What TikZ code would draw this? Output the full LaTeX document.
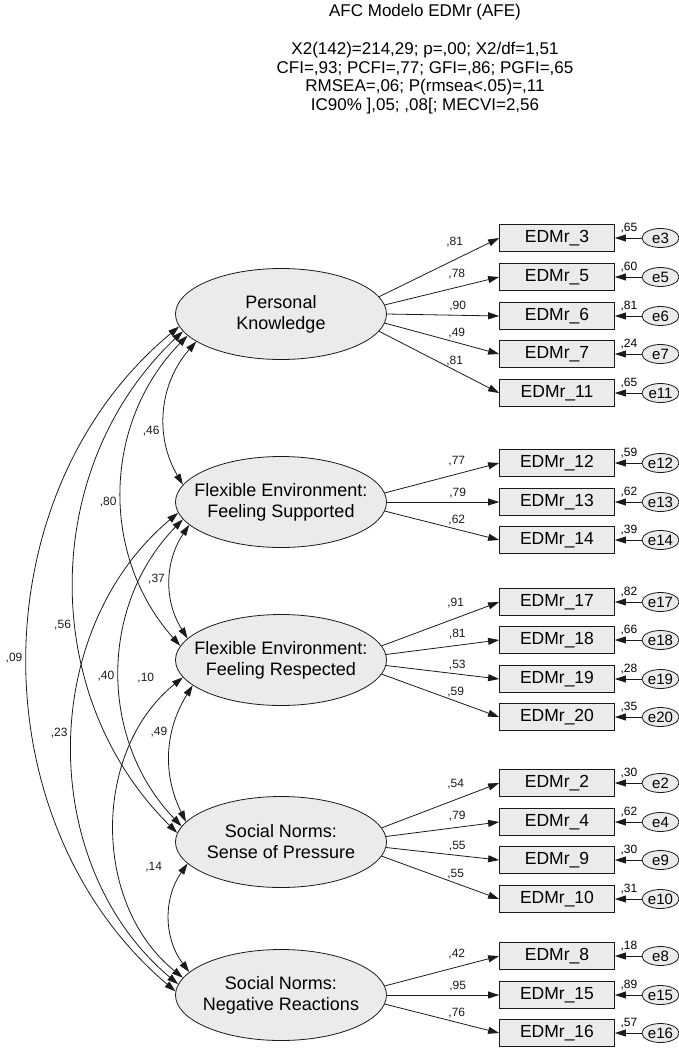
\documentclass[tikz,border=0pt]{standalone}
\usepackage{fontspec}
\setmainfont{Liberation Sans}
\usetikzlibrary{arrows.meta, positioning, shapes.geometric}
\definecolor{SEMfill}{HTML}{EBEBEB}
\definecolor{SEMink}{HTML}{1A1A1A}

\tikzset{
   latent/.style={ellipse, draw=SEMink, fill=SEMfill, line width=0.8pt,
      minimum width=211pt, minimum height=91pt, inner sep=0pt},
   lattext/.style={align=center, font=\fontsize{18}{21}\selectfont},
   observed/.style={rectangle, draw=SEMink, fill=SEMfill, line width=0.8pt,
      minimum width=115pt, minimum height=27pt, inner sep=0pt,
      font=\fontsize{17.5}{20}\selectfont},
   errvar/.style={ellipse, draw=SEMink, fill=SEMfill, line width=0.8pt,
      minimum width=37pt, minimum height=19pt, inner sep=0pt,
      font=\fontsize{15}{17}\selectfont},
   coef/.style={font=\fontsize{12}{14}\selectfont, inner sep=1pt},
   load/.style={-{Triangle[length=11pt, width=7pt]}, line width=0.8pt, SEMink},
   covar/.style={{Triangle[length=11pt, width=7pt]}-{Triangle[length=11pt, width=7pt]},
      line width=0.8pt, SEMink}
}

\begin{document}
\begin{tikzpicture}[x=1pt, y=1pt]
   \useasboundingbox (0,0) rectangle (679,-1049);
   % Header with fit indices
   \node[font=\fontsize{17}{18.5}\selectfont] (title) at (425,-12) {AFC Modelo EDMr (AFE)};
   \node[font=\fontsize{17}{18.5}\selectfont, align=center] (fit) at (425,-78)
      {X2(142)=214,29; p=,00; X2/df=1,51\\
       CFI=,93; PCFI=,77; GFI=,86; PGFI=,65\\
       RMSEA=,06; P(rmsea<.05)=,11\\
       IC90\% ],05; ,08[; MECVI=2,56};
   % Latent factors
   \node[latent, label={[lattext, name=PKtxt]center:Personal\\Knowledge}] (PK) at (281,-314) {};
   \node[latent, label={[lattext, name=FStxt]center:Flexible Environment:\\Feeling Supported}] (FS) at (281,-502) {};
   \node[latent, label={[lattext, name=FRtxt]center:Flexible Environment:\\Feeling Respected}] (FR) at (281,-660) {};
   \node[latent, label={[lattext, name=SPtxt]center:Social Norms:\\Sense of Pressure}] (SP) at (281,-842) {};
   \node[latent, label={[lattext, name=NRtxt]center:Social Norms:\\Negative Reactions}] (NR) at (281,-995) {};
   % Indicators: factor/angle/item/y/loading/R2/label shift
   \foreach \lat/\ang/\num/\yy/\ld/\rsq/\sh in {
      PK/10/3/238/81/65/8, PK/5/5/277/78/60/4, PK/0/6/316/90/81/0,
      PK/-5/7/354/49/24/0, PK/-10/11/393/81/65/0,
      FS/5/12/463/77/59/4, FS/0/13/502/79/62/0, FS/-5/14/540/62/39/0,
      FR/8/17/602/91/82/6, FR/3/18/640/81/66/2, FR/-3/19/679/53/28/0, FR/-8/20/717/59/35/0,
      SP/8/2/783/54/30/6, SP/3/4/822/79/62/2, SP/-3/9/860/55/30/0, SP/-8/10/899/55/31/0,
      NR/5/8/956/42/18/4, NR/0/15/995/95/89/0, NR/-5/16/1033/76/57/0}{
      \node[observed] (x\num) at (557,-\yy) {EDMr\_\num};
      \node[errvar] (e\num) at (660.5,-\yy) {e\num};
      \node[coef] (r\num) at ([shift={(14,-4)}]x\num.north east) {,\rsq};
      \draw[load] (\lat.\ang) -- (x\num.west)
         node[coef, pos=0.63, above=3pt, yshift=\sh pt] (l\num) {,\ld};
      \draw[load] (e\num) -- (x\num.east);
   }
   % Correlations between factors
   \draw[covar] (PK.198) to[bend right=36] node[coef, pos=0.64, left=4pt] (c46) {,46} (FS.170);
   \draw[covar] (PK.193) to[bend right=43] node[coef, pos=0.54, left=4pt] (c80) {,80} (FR.172);
   \draw[covar] (PK.190) to[bend right=46] node[coef, pos=0.58, left=4pt] (c56) {,56} (SP.175);
   \draw[covar] (PK.187) to[bend right=50] node[coef, pos=0.50, left=4pt] (c09) {,09} (NR.178);
   \draw[covar] (FS.194) to[bend right=33] node[coef, pos=0.48, left=4pt] (c37) {,37} (FR.167);
   \draw[covar] (FS.190) to[bend right=44] node[coef, pos=0.51, left=4pt] (c40) {,40} (SP.171);
   \draw[covar] (FS.186) to[bend right=50] node[coef, pos=0.47, left=4pt] (c23) {,23} (NR.174);
   \draw[covar] (FR.196) to[bend right=29] node[coef, pos=0.35, left=4pt] (c49) {,49} (SP.168);
   \draw[covar] (FR.190) to[bend right=51] node[coef, pos=0.02, left=22pt, yshift=4pt] (c10) {,10} (NR.170);
   \draw[covar] (SP.193) to[bend right=36] node[coef, pos=0.03, left=22pt] (c14) {,14} (NR.166);
\end{tikzpicture}
\end{document}
